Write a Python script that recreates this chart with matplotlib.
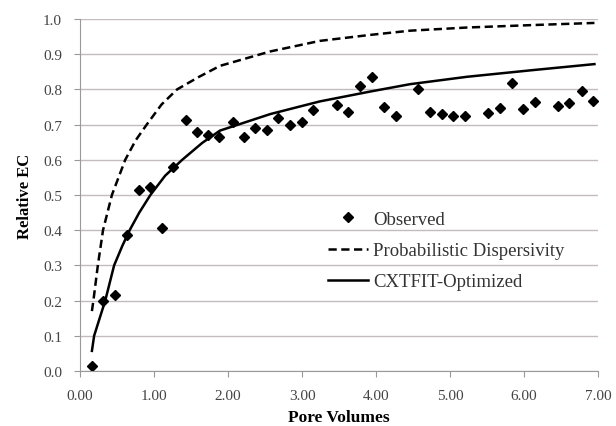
import numpy as np
import matplotlib
matplotlib.use("Agg")
import matplotlib.pyplot as plt
from matplotlib.ticker import FormatStrFormatter

# observed relative EC vs pore volumes
obs_pv = [0.16, 0.31, 0.47, 0.63, 0.79, 0.95, 1.11, 1.26, 1.43, 1.58, 1.73, 1.88,
          2.06, 2.21, 2.37, 2.52, 2.68, 2.84, 3.00, 3.15, 3.47, 3.62, 3.78, 3.94,
          4.10, 4.27, 4.57, 4.73, 4.89, 5.04, 5.20, 5.51, 5.68, 5.84, 5.99, 6.15,
          6.46, 6.61, 6.78, 6.93]
obs_ec = [0.015, 0.20, 0.215, 0.385, 0.514, 0.522, 0.405, 0.58, 0.713, 0.678, 0.67, 0.665,
          0.708, 0.665, 0.69, 0.685, 0.72, 0.70, 0.708, 0.741, 0.756, 0.736, 0.81, 0.835,
          0.75, 0.724, 0.80, 0.735, 0.73, 0.725, 0.724, 0.732, 0.746, 0.817, 0.744, 0.763,
          0.753, 0.761, 0.796, 0.767]

# probabilistic dispersivity curve
prob_pv = [0.16, 0.18, 0.24, 0.31, 0.43, 0.61, 0.75, 0.90, 1.10, 1.31, 1.60, 1.89,
           2.57, 3.24, 3.92, 4.46, 5.23, 6.12, 6.95]
prob_ec = [0.17, 0.20, 0.30, 0.40, 0.50, 0.60, 0.655, 0.70, 0.757, 0.80, 0.835, 0.867,
           0.908, 0.938, 0.955, 0.967, 0.976, 0.983, 0.989]

# CXTFIT optimized curve
cxt_pv = [0.16, 0.19, 0.34, 0.46, 0.57, 0.67, 0.80, 0.95, 1.15, 1.38, 1.65, 1.89,
          2.57, 3.24, 3.92, 4.46, 5.23, 6.12, 6.95]
cxt_ec = [0.057, 0.10, 0.20, 0.30, 0.355, 0.40, 0.45, 0.50, 0.555, 0.60, 0.648, 0.683,
          0.73, 0.766, 0.794, 0.815, 0.836, 0.855, 0.872]

plt.rcParams['font.family'] = ['Liberation Serif', 'DejaVu Serif']

fig = plt.figure(figsize=(6.16, 4.27), dpi=100)
ax = fig.add_axes([0.13, 0.129, 0.841, 0.824])

ax.plot(obs_pv, obs_ec, linestyle='none', marker='D', markersize=5.5,
        color='black', label='Observed')
ax.plot(prob_pv, prob_ec, linestyle=(0, (3.3, 1.8)), linewidth=1.8,
        color='black', label='Probabilistic Dispersivity')
ax.plot(cxt_pv, cxt_ec, linestyle='-', linewidth=1.8,
        color='black', label='CXTFIT-Optimized')

ax.set_xlim(0, 7)
ax.set_ylim(0, 1.0)
ax.set_xticks(np.arange(0, 7.01, 1.0))
ax.set_yticks(np.arange(0, 1.01, 0.1))
ax.xaxis.set_major_formatter(FormatStrFormatter('%.2f'))
ax.yaxis.set_major_formatter(FormatStrFormatter('%.1f'))

ax.grid(axis='y', color='#c4bcbc', linewidth=1.0)
ax.set_axisbelow(True)
for side in ['top', 'right']:
    ax.spines[side].set_visible(False)
for side in ['left', 'bottom']:
    ax.spines[side].set_color('#999999')
ax.tick_params(axis='both', colors='#999999', labelcolor='#444444',
               labelsize=11, length=4, direction='out')
ax.tick_params(axis='x', pad=9)
ax.tick_params(axis='y', pad=9)

ax.set_xlabel('Pore Volumes', fontsize=12.5, fontweight='bold', labelpad=5)
ax.set_ylabel('Relative EC', fontsize=12, fontweight='bold', labelpad=7)

ax.legend(loc='upper left', bbox_to_anchor=(0.479, 0.455), frameon=False,
          borderpad=0, borderaxespad=0,
          fontsize=13.5, handlelength=2.1, handletextpad=0.3,
          labelspacing=0.75, labelcolor='#333333')

plt.savefig('out.png', dpi=100)
